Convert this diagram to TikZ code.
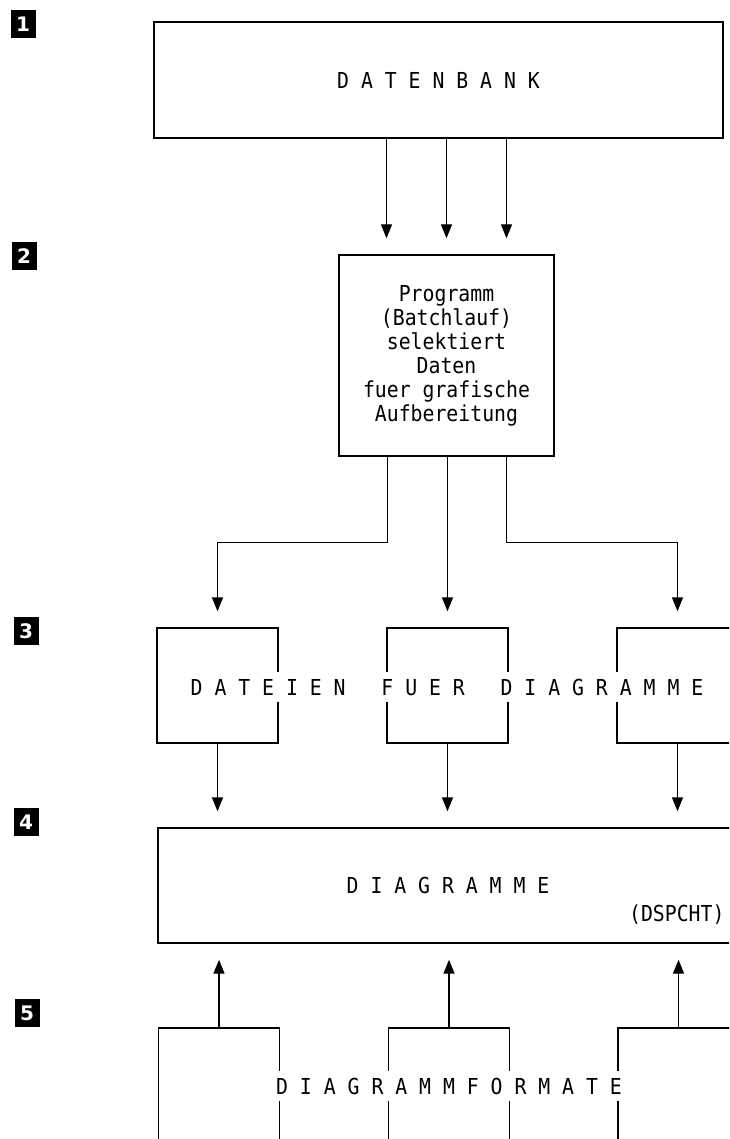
\documentclass[tikz,border=0pt]{standalone}
\usepackage{fontspec}
\setmonofont{DejaVu Sans Mono}[FakeStretch=0.9]
\newfontfamily\badgefont{DejaVu Sans}
\usetikzlibrary{arrows.meta}

\begin{document}
	\begin{tikzpicture}[x=1pt,y=-1pt,
		font=\ttfamily\fontsize{22}{24}\selectfont,
		box/.style={draw,line width=1.4pt,inner sep=0pt},
		flow/.style={line width=1.4pt,-{Triangle[length=14pt,width=11pt]},shorten >=16pt},
		badge/.style={fill=black,text=white,inner sep=0pt,
			minimum width=25pt,minimum height=28pt,
			font=\badgefont\bfseries\fontsize{20}{20}\selectfont},
		across/.style={fill=white,inner xsep=1pt,inner ysep=7pt}]
		
		\useasboundingbox (0,0) rectangle (729,1139);
		\clip (0,0) rectangle (729,1139);
		
		% level numbers
		\node[badge] (n1) at (23,24) {1};
		\node[badge] (n2) at (24,256.5) {2};
		\node[badge] (n3) at (26,631) {3};
		\node[badge] (n4) at (26,822) {4};
		\node[badge] (n5) at (27,1013) {5};
		
		% database
		\node[box,minimum width=569pt,minimum height=116pt] (db) at (438.5,80)
		{D A T E N B A N K};
		
		% batch program
		\node[box,minimum width=215pt,minimum height=201pt,align=center] (prog) at (446.5,355.5)
		{Programm\\(Batchlauf)\\selektiert\\Daten\\fuer grafische\\Aufbereitung};
		
		\foreach \dx in {-60,0,60}{
			\coordinate (t) at ([xshift=\dx pt]prog.north);
			\draw[flow] (t |- db.south) -- (t);
		}
		
		% files
		\node[box,minimum width=121pt,minimum height=115pt] (f1) at (217.5,685.5) {};
		\node[box,minimum width=121pt,minimum height=115pt] (f2) at (447.5,685.5) {};
		\node[box,minimum width=121pt,minimum height=115pt] (f3) at (677.5,685.5) {};
		\node[across] (files) at (447,687) {D A T E I E N~~~F U E R~~~D I A G R A M M E};
		
		\draw[flow] ([xshift=-59pt]prog.south) -- ++(0,86) -| (f1.north);
		\draw[flow] (prog.south -| f2.north) -- (f2.north);
		\draw[flow] ([xshift=60pt]prog.south) -- ++(0,86) -| (f3.north);
		
		% diagrams
		\node[box,minimum width=580pt,minimum height=115pt] (diag) at (448,885.5)
		{D I A G R A M M E};
		\node[anchor=east,inner xsep=2pt] (dspcht) at ([xshift=-12pt,yshift=-29pt]diag.east) {(DSPCHT)};
		
		% formats
		\node[box,minimum width=121pt,minimum height=140pt] (g1) at (219,1098) {};
		\node[box,minimum width=121pt,minimum height=140pt] (g2) at (449,1098) {};
		\node[box,minimum width=121pt,minimum height=140pt] (g3) at (678.5,1098) {};
		\node[across] (formats) at (449,1086) {D I A G R A M M F O R M A T E};
		
		\foreach \i in {1,2,3}{
			\draw[flow] (f\i.south) -- (f\i.south |- diag.north);
			\draw[flow] (g\i.north) -- (g\i.north |- diag.south);
		}
		
	\end{tikzpicture}
\end{document}
